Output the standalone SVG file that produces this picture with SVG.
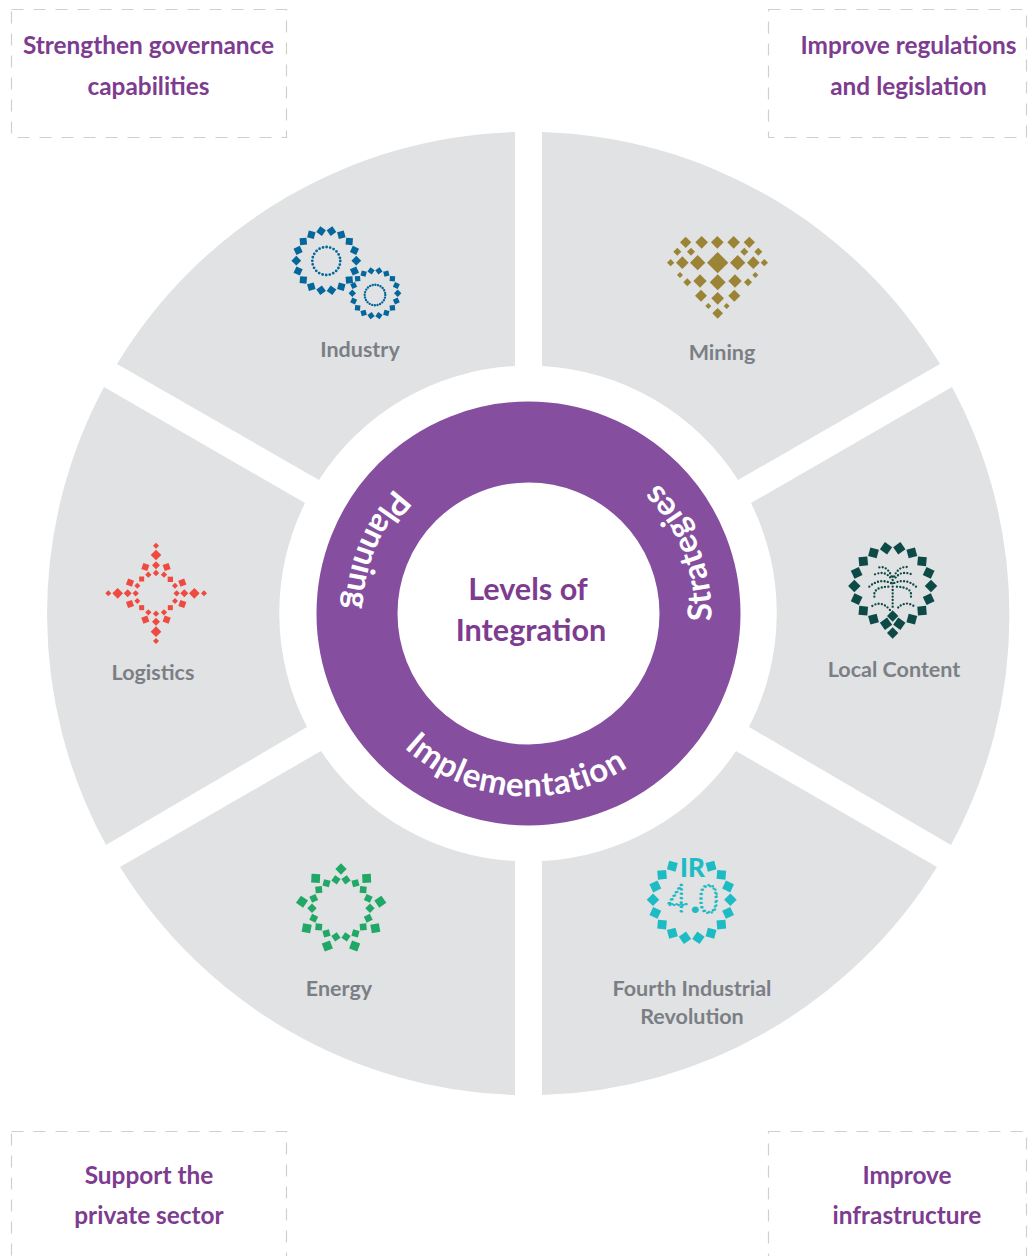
<svg xmlns="http://www.w3.org/2000/svg" xmlns:xlink="http://www.w3.org/1999/xlink" width="1033" height="1256" viewBox="0 0 1033 1256">
<style>
text{font-family:"Lato","Carlito","Open Sans",sans-serif;font-weight:700}
.box{fill:none;stroke:#cfcfcf;stroke-width:1.2;stroke-dasharray:12 10}
.goal{fill:#7d3c8f;font-size:24.4px;text-anchor:middle}
.wedge{fill:#e0e2e3}
.lbl{fill:#7b7f85;font-size:21.5px;text-anchor:middle}
.ringt{fill:#fff;font-size:33px;letter-spacing:.7px;text-anchor:middle}
.center{fill:#7d3c8f;font-size:30.6px;text-anchor:middle}
.palm{fill:none;stroke:#0d4a47;stroke-width:7;stroke-linecap:round;stroke-dasharray:0 10}
</style>
<defs>
<polygon id="d" points="0,-1 1,0 0,1 -1,0"/>
<rect id="s" x="-1" y="-1" width="2" height="2"/>
<path id="tc" d="M528.5 430.5A183 183 0 0 0 528.5 796.5A183 183 0 0 0 528.5 430.5"/>
<g id="sq"><use href="#s" transform="rotate(45) scale(11.5)"/></g>
<g id="ring16">
<use href="#sq" transform="translate(100 0)"/>
<use href="#sq" transform="rotate(20) translate(100 0)"/>
<use href="#sq" transform="rotate(40) translate(100 0)"/>
<use href="#sq" transform="rotate(60) translate(100 0)"/>
<use href="#sq" transform="rotate(80) translate(100 0)"/>
<use href="#sq" transform="rotate(100) translate(100 0)"/>
<use href="#sq" transform="rotate(120) translate(100 0)"/>
<use href="#sq" transform="rotate(140) translate(100 0)"/>
<use href="#sq" transform="rotate(160) translate(100 0)"/>
<use href="#sq" transform="rotate(180) translate(100 0)"/>
<use href="#sq" transform="rotate(200) translate(100 0)"/>
<use href="#sq" transform="rotate(220) translate(100 0)"/>
<use href="#sq" transform="rotate(240) translate(100 0)"/>
<use href="#sq" transform="rotate(-40) translate(100 0)"/>
<use href="#sq" transform="rotate(-60) translate(100 0)"/>
<use href="#sq" transform="rotate(-20) translate(100 0)"/>
</g>
<g id="ring18">
<use href="#ring16"/>
<use href="#sq" transform="rotate(-80) translate(100 0)"/>
<use href="#sq" transform="rotate(-100) translate(100 0)"/>
</g>
</defs>

<g id="goal-governance"><rect class="box" x="11.5" y="9.5" width="275" height="128"/><text class="goal" x="148.5" y="53.5">Strengthen governance</text><text class="goal" x="148.5" y="94.5">capabilities</text></g>
<g id="goal-regulations"><rect class="box" x="768.5" y="9.5" width="258" height="128"/><text class="goal" x="908.5" y="53.5">Improve regulations</text><text class="goal" x="908.5" y="94.5">and legislation</text></g>
<g id="goal-private"><rect class="box" x="11.5" y="1131.5" width="275" height="128"/><text class="goal" x="149" y="1183.5">Support the</text><text class="goal" x="149" y="1223.5">private sector</text></g>
<g id="goal-infra"><rect class="box" x="768.5" y="1131.5" width="258" height="128"/><text class="goal" x="907" y="1183.5">Improve</text><text class="goal" x="907" y="1223.5">infrastructure</text></g>

<g id="industry">
<path class="wedge" d="M515 132A481.5 481.5 0 0 0 117 364L319 480A248 248 0 0 1 515 366Z"/>
<g fill="#04679c">
<g transform="translate(326.3 260.7) scale(.3)"><use href="#ring18"/></g>
<g transform="translate(375 293.3) scale(.227)"><use href="#ring18"/></g>
</g>
<circle cx="326.3" cy="261" r="14" fill="none" stroke="#04679c" stroke-width="2.8" stroke-linecap="round" stroke-dasharray="0 3.66"/>
<circle cx="375" cy="295" r="10.3" fill="none" stroke="#04679c" stroke-width="2.4" stroke-linecap="round" stroke-dasharray="0 2.7"/>
<text class="lbl" x="360" y="357">Industry</text>
</g>

<g id="mining">
<path class="wedge" d="M542 132A481.5 481.5 0 0 1 940 364L738 480A248 248 0 0 0 542 366Z"/>
<g fill="#9c8437" transform="translate(655 225) scale(.3333)">
<use href="#d" transform="translate(92 52) scale(17)"/><use href="#d" transform="translate(140 52) scale(19)"/><use href="#d" transform="translate(187 52) scale(19)"/><use href="#d" transform="translate(236 52) scale(19)"/><use href="#d" transform="translate(283 52) scale(17)"/>
<use href="#d" transform="translate(67 80) scale(12)"/><use href="#d" transform="translate(108 80) scale(12)"/><use href="#d" transform="translate(268 80) scale(12)"/><use href="#d" transform="translate(310 80) scale(12)"/>
<use href="#d" transform="translate(47 113) scale(11)"/><use href="#d" transform="translate(82 113) scale(19)"/><use href="#d" transform="translate(128 113) scale(23)"/><use href="#d" transform="translate(188 113) scale(32)"/><use href="#d" transform="translate(248 113) scale(23)"/><use href="#d" transform="translate(295 113) scale(19)"/><use href="#d" transform="translate(328 113) scale(11)"/>
<use href="#d" transform="translate(75 150) scale(9)"/><use href="#d" transform="translate(301 150) scale(9)"/>
<use href="#d" transform="translate(97 172) scale(12)"/><use href="#d" transform="translate(135 168) scale(20)"/><use href="#d" transform="translate(188 172) scale(24)"/><use href="#d" transform="translate(240 168) scale(20)"/><use href="#d" transform="translate(279 172) scale(12)"/>
<use href="#d" transform="translate(138 212) scale(18)"/><use href="#d" transform="translate(188 220) scale(19)"/><use href="#d" transform="translate(238 212) scale(18)"/>
<use href="#d" transform="translate(160 243) scale(9)"/><use href="#d" transform="translate(215 243) scale(9)"/>
<use href="#d" transform="translate(188 265) scale(16)"/>
</g>
<text class="lbl" x="722" y="360">Mining</text>
</g>

<g id="local-content">
<path class="wedge" d="M952 387A481.5 481.5 0 0 1 951 845L749 727A248 248 0 0 0 751 503Z"/>
<g transform="translate(840 535) scale(.3333)">
<g fill="#0d4a47">
<g transform="translate(158 153) scale(1.15)"><use href="#ring18"/></g>
<use href="#d" transform="translate(158 243) scale(17)"/>
<use href="#d" transform="translate(158 294) scale(17)"/>
</g>
<path class="palm" d="M158 125V225M118 97Q142 92 155 125M200 96Q175 95 162 125M105 118Q140 105 155 135M212 117Q180 105 162 135M88 155Q118 128 155 145M228 155Q198 128 160 145M103 185Q98 155 150 155M213 185Q218 155 165 155M97 213Q125 195 150 225M220 212Q192 195 168 225"/>
</g>
<text class="lbl" x="894" y="677">Local Content</text>
</g>

<g id="fourth-industrial-revolution">
<path class="wedge" d="M937 867A481.5 481.5 0 0 1 542 1095V861A248 248 0 0 0 736 751Z"/>
<g fill="#1dbcc5">
<g transform="translate(691.7 899.7) scale(.387)"><use href="#ring16"/></g>
<text x="692.5" y="877" font-size="26" text-anchor="middle" style="fill:#1dbcc5;font-weight:900">IR</text>
<text y="913" font-size="38" style="font-family:Roboto,'Open Sans',sans-serif;font-weight:100;fill:none;stroke:#1dbcc5;stroke-width:2.4;stroke-linecap:round;stroke-dasharray:0 4.4"><tspan x="666">4</tspan><tspan x="689.5" style="font-weight:900;fill:#1dbcc5;stroke:none">.</tspan><tspan x="698">0</tspan></text>
</g>
<text class="lbl" x="692" y="996">Fourth Industrial</text>
<text class="lbl" x="692" y="1024">Revolution</text>
</g>

<g id="energy">
<path class="wedge" d="M120 867A481.5 481.5 0 0 0 515 1095V861A248 248 0 0 1 321 751Z"/>
<g fill="#22a866" transform="translate(285 855) scale(.3333)">
<g transform="translate(168 160) scale(.87)"><use href="#ring18"/></g>
<use href="#d" transform="translate(168 42) scale(17)"/>
<use href="#s" transform="translate(92 70) rotate(3) scale(13)"/><use href="#s" transform="translate(245 70) rotate(-3) scale(13)"/>
<use href="#s" transform="translate(51 140) rotate(35) scale(13)"/><use href="#s" transform="translate(286 140) rotate(-35) scale(13)"/>
<use href="#s" transform="translate(65 220) rotate(10) scale(13)"/><use href="#s" transform="translate(271 220) rotate(-10) scale(13)"/>
<use href="#s" transform="translate(127 273) rotate(-20) scale(13)"/><use href="#s" transform="translate(209 273) rotate(20) scale(13)"/>
</g>
<text class="lbl" x="339" y="996">Energy</text>
</g>

<g id="logistics">
<path class="wedge" d="M106 845A481.5 481.5 0 0 1 104 387L305 503A248 248 0 0 0 307 727Z"/>
<g fill="#ef4a3f" transform="translate(95 535) scale(.3333)">
<use href="#d" transform="translate(183 32) scale(9)"/><use href="#d" transform="translate(183 60) scale(16)"/><use href="#d" transform="translate(183 91) scale(12)"/><use href="#d" transform="translate(183 114) scale(9.5)"/>
<use href="#d" transform="translate(160 119) scale(9.5)"/><use href="#d" transform="translate(207 119) scale(9.5)"/>
<use href="#s" transform="translate(151 96) rotate(20) scale(9.5)"/><use href="#s" transform="translate(215 96) rotate(-20) scale(9.5)"/>
<use href="#s" transform="translate(140 132) scale(7.5)"/><use href="#s" transform="translate(226 133) scale(8)"/>
<use href="#d" transform="translate(127 152) scale(9)"/><use href="#d" transform="translate(240 152) scale(9)"/>
<use href="#s" transform="translate(105 143) rotate(20) scale(9.5)"/><use href="#s" transform="translate(262 143) rotate(-20) scale(9.5)"/>
<use href="#d" transform="translate(40 175) scale(9)"/><use href="#d" transform="translate(68 175) scale(16)"/><use href="#d" transform="translate(98 175) scale(12)"/><use href="#d" transform="translate(122 175) scale(9.5)"/>
<use href="#d" transform="translate(327 175) scale(9)"/><use href="#d" transform="translate(298 175) scale(16)"/><use href="#d" transform="translate(268 175) scale(12)"/><use href="#d" transform="translate(245 175) scale(9.5)"/>
<use href="#d" transform="translate(183 318) scale(9)"/><use href="#d" transform="translate(183 290) scale(16)"/><use href="#d" transform="translate(183 260) scale(12)"/><use href="#d" transform="translate(183 236) scale(9.5)"/>
<use href="#d" transform="translate(160 232) scale(9.5)"/><use href="#d" transform="translate(207 232) scale(9.5)"/>
<use href="#s" transform="translate(151 254) rotate(-20) scale(9.5)"/><use href="#s" transform="translate(215 254) rotate(20) scale(9.5)"/>
<use href="#s" transform="translate(140 218) scale(7.5)"/><use href="#s" transform="translate(226 218) scale(7.5)"/>
<use href="#d" transform="translate(127 198) scale(9)"/><use href="#d" transform="translate(240 198) scale(9)"/>
<use href="#s" transform="translate(105 207) rotate(-20) scale(9.5)"/><use href="#s" transform="translate(262 207) rotate(20) scale(9.5)"/>
</g>
<text class="lbl" x="153" y="680">Logistics</text>
</g>

<g id="levels-ring">
<circle cx="528.5" cy="613.5" r="171.5" fill="none" stroke="#854e9f" stroke-width="81"/>
<text class="ringt"><textPath href="#tc" xlink:href="#tc" startOffset="216">Planning</textPath></text>
<text class="ringt"><textPath href="#tc" xlink:href="#tc" startOffset="559">Implementation</textPath></text>
<text class="ringt"><textPath href="#tc" xlink:href="#tc" startOffset="931">Strategies</textPath></text>
</g>
<g id="center">
<text class="center" x="528" y="600">Levels of</text>
<text class="center" x="531" y="641">Integration</text>
</g>
</svg>
